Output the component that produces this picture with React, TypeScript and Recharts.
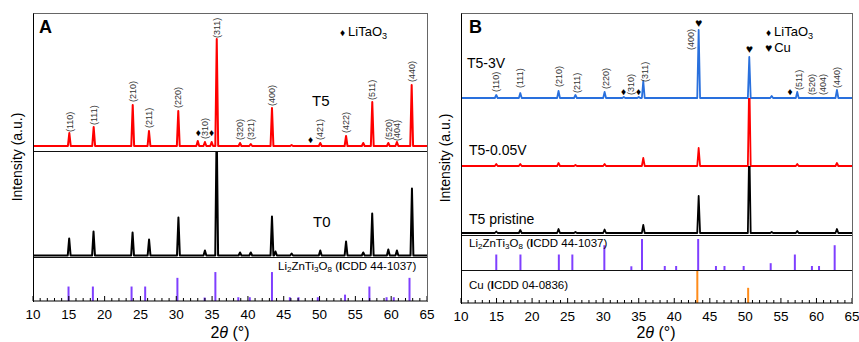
import React from 'react';
import { ComposedChart, Line, Bar, Scatter, XAxis, YAxis } from 'recharts';

const FONT = 'Arial, "Liberation Sans", Helvetica, sans-serif';

// 2θ axis
const X_DOMAIN = [10, 65];
const X_TICKS = [
  10, 11, 12, 13, 14, 15, 16, 17, 18, 19, 20, 21, 22, 23, 24, 25, 26, 27, 28, 29,
  30, 31, 32, 33, 34, 35, 36, 37, 38, 39, 40, 41, 42, 43, 44, 45, 46, 47, 48, 49,
  50, 51, 52, 53, 54, 55, 56, 57, 58, 59, 60, 61, 62, 63, 64, 65,
];
const X_LABELS = [10, 15, 20, 25, 30, 35, 40, 45, 50, 55, 60, 65];

// peaks: [2θ, intensity] (a.u.)
const T5_A = [
  [15.07, 13], [18.47, 19], [23.92, 41], [26.19, 15], [30.28, 35], [33.0, 5], [34.0, 4],
  [34.94, 4], [35.65, 107], [38.9, 3], [40.4, 2], [43.36, 38], [46.1, 1], [50.1, 3],
  [53.7, 10], [56.1, 3], [57.36, 44], [59.6, 3], [60.8, 4], [62.86, 61],
];
const T0_A = [
  [15.05, 17], [18.45, 24], [23.9, 23], [26.2, 16], [30.3, 38], [34.0, 5], [35.64, 130],
  [38.9, 3], [40.4, 3], [43.36, 39], [43.85, 4], [46.1, 2], [50.1, 5], [53.7, 14],
  [56.1, 3], [57.35, 42], [59.6, 6], [60.8, 5], [62.9, 67],
];
const T5_3V = [
  [14.96, 3], [18.34, 5], [23.72, 7], [26.1, 3], [30.2, 6], [32.9, 1], [35.0, 1],
  [35.64, 17], [43.43, 68], [50.55, 41], [53.7, 2], [57.3, 6], [62.88, 8],
];
const T5_005V = [
  [14.96, 2], [18.34, 2], [23.72, 3], [26.1, 1], [30.2, 2], [35.64, 8], [43.43, 18],
  [50.55, 90], [57.3, 2], [62.88, 3],
];
const T5_PRISTINE = [
  [14.96, 1.5], [18.34, 3], [23.72, 4], [26.1, 1], [30.2, 3.5], [35.64, 8], [43.43, 37],
  [50.55, 90], [53.7, 1], [57.3, 2], [62.88, 4],
];

// reference patterns: [2θ, relative intensity]
const LZTO_REF = [
  [14.9, 50], [18.3, 50], [23.7, 50], [25.6, 50], [30.1, 80], [33.9, 12], [35.4, 100],
  [38.6, 13], [40.2, 13], [43.3, 100], [45.8, 13], [47.0, 13], [49.7, 13], [53.5, 22],
  [56.9, 50], [59.3, 13], [60.3, 13], [62.5, 80],
];
const CU_REF = [[43.3, 100], [50.45, 46]];

// annotations: [2θ, height above baseline, text]
const LABELS_A = [
  [15.07, 14, '(110)'], [18.47, 21, '(111)'], [23.92, 44, '(210)'], [26.19, 18, '(211)'],
  [30.28, 38, '(220)'], [34.0, 7, '(310)'], [35.65, 108, '(311)'], [38.9, 6, '(320)'],
  [40.4, 6, '(321)'], [43.36, 40, '(400)'], [50.1, 6, '(421)'], [53.7, 13, '(422)'],
  [57.36, 46, '(511)'], [59.6, 6, '(520)'], [60.85, 5, '(404)'], [62.86, 64, '(440)'],
];
const MARKS_A = [[33.07, 14, '♦'], [34.94, 14, '♦'], [48.76, 7, '♦']];
const LABELS_B = [
  [14.96, 6, '(110)'], [18.34, 10, '(111)'], [23.7, 11, '(210)'], [26.25, 5, '(211)'],
  [30.3, 9, '(220)'], [33.9, 3, '(310)'], [35.8, 16, '(311)'], [42.3, 48, '(400)'],
  [57.5, 8, '(511)'], [59.4, 3, '(520)'], [60.9, 3, '(404)'], [62.9, 10, '(440)'],
];
const MARKS_B = [
  [32.88, 7, '♦'], [34.99, 7, '♦'], [56.27, 7, '♦'], [43.43, 75, '♥'], [50.55, 49, '♥'],
];

const PEAK_HALF = 0.2;

const toTrace = (peaks: number[][]) => {
  const pts = [{ x: 10, y: 0 }];
  peaks.forEach(([p, h]) => {
    pts.push({ x: p - PEAK_HALF, y: 0 }, { x: p, y: h }, { x: p + PEAK_HALF, y: 0 });
  });
  pts.push({ x: 65, y: 0 });
  return pts;
};
const toPoints = (rows: any[][]) => rows.map(([x, y, t]) => ({ x, y, t }));
const toSticks = (rows: number[][]) => rows.map(([x, h]) => ({ x, h }));

const MillerText = (props: any) => {
  const { cx, cy, payload } = props;
  return (
    <text
      transform={`translate(${cx + 3.2},${cy}) rotate(-90)`}
      fontSize={9}
      fill="#333"
      fontFamily={FONT}
    >
      {payload.t}
    </text>
  );
};

const Glyph = (props: any) => {
  const { cx, cy, payload } = props;
  return (
    <text
      x={cx}
      y={cy}
      textAnchor="middle"
      dominantBaseline="central"
      fontSize={payload.t === '♥' ? 12 : 10}
      fill="#000"
    >
      {payload.t}
    </text>
  );
};

const XTick = (props: any) => {
  const { x, y, payload } = props;
  const major = X_LABELS.includes(payload.value);
  return (
    <g>
      <line x1={x} x2={x} y1={y} y2={y - (major ? 5 : 3)} stroke="#000" strokeWidth={1} />
      {major && (
        <text x={x} y={y + 18} textAnchor="middle" fontSize={13.5} fontFamily={FONT} fill="#000">
          {payload.value}
        </text>
      )}
    </g>
  );
};

function Strip({ left, top, width, height, yDomain, peaks, color, sw, labels, marks }: any) {
  return (
    <div style={{ position: 'absolute', left, top }}>
      <ComposedChart width={width} height={height} margin={{ top: 0, right: 0, bottom: 0, left: 0 }}>
        <XAxis type="number" dataKey="x" domain={X_DOMAIN} allowDataOverflow hide />
        <YAxis type="number" dataKey="y" domain={yDomain} allowDataOverflow hide />
        <Line
          data={toTrace(peaks)}
          dataKey="y"
          type="linear"
          stroke={color}
          strokeWidth={sw}
          strokeLinejoin="round"
          dot={false}
          isAnimationActive={false}
        />
        {labels && <Scatter data={toPoints(labels)} shape={MillerText} isAnimationActive={false} />}
        {marks && <Scatter data={toPoints(marks)} shape={Glyph} isAnimationActive={false} />}
      </ComposedChart>
    </div>
  );
}

function Sticks({ left, top, width, plotH, yDomain, rows, color, axis }: any) {
  const pad = 20;
  return (
    <div style={{ position: 'absolute', left: left - pad, top }}>
      <ComposedChart
        width={width + pad * 2}
        height={plotH + (axis ? 40 : 0)}
        data={toSticks(rows)}
        margin={{ top: 0, right: pad, bottom: 0, left: pad }}
      >
        <XAxis
          type="number"
          dataKey="x"
          domain={X_DOMAIN}
          allowDataOverflow
          hide={!axis}
          ticks={X_TICKS}
          interval={0}
          tick={<XTick />}
          tickLine={false}
          tickSize={0}
          tickMargin={0}
          height={40}
          axisLine={{ stroke: '#000' }}
        />
        <YAxis type="number" domain={yDomain} allowDataOverflow hide />
        <Bar dataKey="h" fill={color} barSize={2} isAnimationActive={false} />
      </ComposedChart>
    </div>
  );
}

const abs = (s: React.CSSProperties): React.CSSProperties => ({ position: 'absolute', whiteSpace: 'nowrap', ...s });
const Sub = ({ children }: { children: React.ReactNode }) => (
  <span style={{ fontSize: '0.7em', verticalAlign: '-0.3em' }}>{children}</span>
);

const Frame = ({ left, top, width, height }: any) => (
  <div
    style={abs({
      left, top, width, height, boxSizing: 'border-box',
      borderLeft: '1px solid #000', borderTop: '1px solid #666', borderRight: '1px solid #666',
      pointerEvents: 'none',
    })}
  />
);
const HLine = ({ left, top, width }: any) => (
  <div style={abs({ left, top, width, height: 1, background: '#111' })} />
);
const YTitle = ({ cx, cy }: any) => (
  <div
    style={abs({
      left: cx - 100, top: cy - 10, width: 200, height: 20, lineHeight: '20px',
      textAlign: 'center', fontSize: 14, transform: 'rotate(-90deg)',
    })}
  >
    Intensity (a.u.)
  </div>
);
const XTitle = ({ cx }: any) => (
  <div style={abs({ left: cx - 60, top: 323, width: 120, textAlign: 'center', fontSize: 16, lineHeight: '20px' })}>
    2<i>θ</i> (°)
  </div>
);

export default function App() {
  const AL = 33, AW = 394, BL = 461, BW = 391;
  return (
    <div style={{ position: 'absolute', left: 0, top: 0, width: 859, height: 342, background: '#fff', fontFamily: FONT, color: '#000' }}>
      {/* Panel A */}
      <Strip left={AL} top={13} width={AW} height={138} yDomain={[-5, 133]} peaks={T5_A} color="#ff0000" sw={2} labels={LABELS_A} marks={MARKS_A} />
      <Strip left={AL} top={151} width={AW} height={106} yDomain={[-1.5, 104.5]} peaks={T0_A} color="#000" sw={2} />
      <Sticks left={AL} top={257} width={AW} plotH={44} yDomain={[0, 152]} rows={LZTO_REF} color="#7f3fff" axis />
      <HLine left={AL} top={151} width={AW} />
      <HLine left={AL} top={257} width={AW} />
      <Frame left={AL} top={13} width={AW + 1} height={289} />
      <div style={abs({ left: 39, top: 17, fontSize: 18, fontWeight: 'bold' })}>A</div>
      <div style={abs({ left: 340, top: 24, fontSize: 13 })}>
        <span style={{ fontSize: 10, marginRight: 3 }}>♦</span>LiTaO<Sub>3</Sub>
      </div>
      <div style={abs({ left: 312, top: 92, fontSize: 15 })}>T5</div>
      <div style={abs({ left: 313, top: 213, fontSize: 15 })}>T0</div>
      <div style={abs({ left: 278, top: 260, fontSize: 11.5 })}>
        Li<Sub>2</Sub>ZnTi<Sub>3</Sub>O<Sub>8</Sub> (<b>I</b>CDD 44-1037)
      </div>
      <YTitle cx={17} cy={157} />
      <XTitle cx={230} />

      {/* Panel B */}
      <Strip left={BL} top={13} width={BW} height={88} yDomain={[-3, 85]} peaks={T5_3V} color="#2970dd" sw={1.8} labels={LABELS_B} marks={MARKS_B} />
      <Strip left={BL} top={98} width={BW} height={71} yDomain={[-3, 68]} peaks={T5_005V} color="#ff0000" sw={1.8} />
      <Strip left={BL} top={166} width={BW} height={69} yDomain={[-2, 67]} peaks={T5_PRISTINE} color="#000" sw={1.8} />
      <Sticks left={BL} top={235} width={BW} plotH={35} yDomain={[0, 113]} rows={LZTO_REF} color="#7f3fff" />
      <Sticks left={BL} top={270} width={BW} plotH={33} yDomain={[0, 100]} rows={CU_REF} color="#ff8c1a" axis />
      <HLine left={BL} top={235} width={BW} />
      <HLine left={BL} top={270} width={BW} />
      <Frame left={BL} top={13} width={BW + 1} height={291} />
      <div style={abs({ left: 469, top: 17, fontSize: 18, fontWeight: 'bold' })}>B</div>
      <div style={abs({ left: 766, top: 24, fontSize: 13 })}>
        <span style={{ fontSize: 10, marginRight: 3 }}>♦</span>LiTaO<Sub>3</Sub>
      </div>
      <div style={abs({ left: 765, top: 40, fontSize: 13 })}>
        <span style={{ fontSize: 12, marginRight: 2 }}>♥</span>Cu
      </div>
      <div style={abs({ left: 467, top: 55, fontSize: 14 })}>T5-3V</div>
      <div style={abs({ left: 469, top: 142, fontSize: 14 })}>T5-0.05V</div>
      <div style={abs({ left: 469, top: 211, fontSize: 14 })}>T5 pristine</div>
      <div style={abs({ left: 469, top: 237, fontSize: 11.5 })}>
        Li<Sub>2</Sub>ZnTi<Sub>3</Sub>O<Sub>8</Sub> (<b>I</b>CDD 44-1037)
      </div>
      <div style={abs({ left: 469, top: 279, fontSize: 11.5 })}>
        Cu (<b>I</b>CDD 04-0836)
      </div>
      <YTitle cx={445} cy={158} />
      <XTitle cx={656} />
    </div>
  );
}
